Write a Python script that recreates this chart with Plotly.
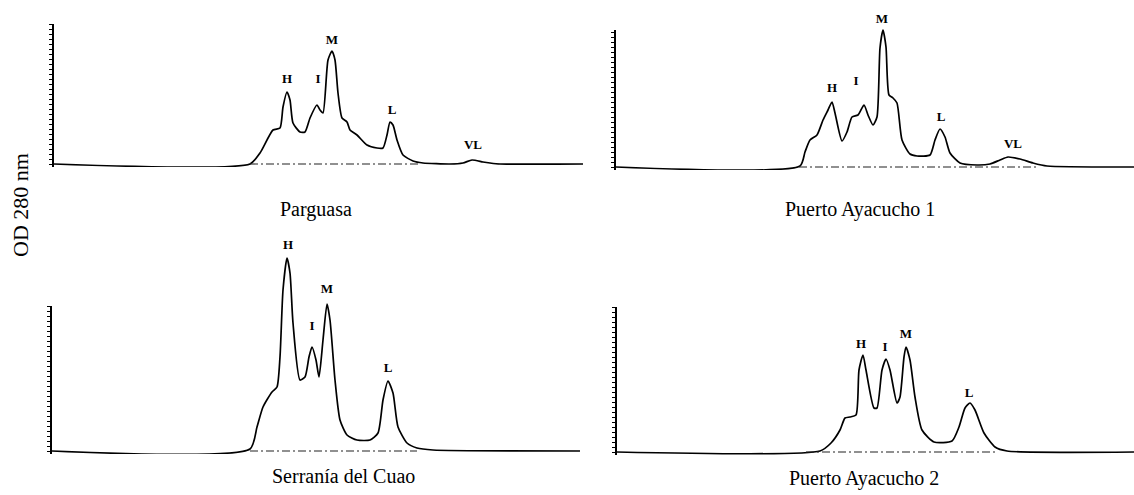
import plotly.graph_objects as go

W, H = 1134, 495

# ---------------- data (elution position, OD280 reading in arbitrary units) -------------
parguasa_x = [0, 196, 206, 219, 226, 229, 233, 236, 239, 246, 251, 256, 263, 266, 269, 274, 278,
              281, 284, 288, 293, 296, 303, 313, 323, 329, 333, 336, 339, 343, 349, 359, 369, 396,
              409, 418, 429, 436, 446, 529]
parguasa_y = [0, 0, 11, 34, 36, 57, 72, 64, 41, 32, 32, 46, 59, 54, 51, 104, 113,
              104, 71, 46, 42, 34, 29, 19, 16, 16, 29, 42, 39, 24, 9, 3, 1, 0,
              1, 4, 2, 1, 0, 0]
parguasa_lbl_x = [233, 264, 278, 338, 419]
parguasa_lbl_y = [84, 84, 123, 53, 18]
parguasa_lbl = ["H", "I", "M", "L", "VL"]
parguasa_base = [196, 367]

pa1_x = [0, 184, 189, 194, 201, 207, 212, 216, 219, 226, 231, 236, 242, 248, 252, 257, 261,
         264, 267, 270, 273, 277, 281, 286, 294, 301, 314, 319, 324, 329, 334, 344, 361, 374,
         384, 392, 404, 417, 431, 518]
pa1_y = [0, 1, 15, 27, 32, 47, 57, 65, 54, 26, 35, 50, 52, 62, 52, 42, 50,
         119, 137, 120, 72, 69, 64, 27, 13, 11, 12, 27, 38, 30, 14, 4, 2, 3,
         7, 10, 8, 4, 1, 0]
pa1_lbl_x = [216, 240, 266, 325, 397]
pa1_lbl_y = [78, 85, 147, 49, 22]
pa1_lbl = ["H", "I", "M", "L", "VL"]
pa1_base = [183, 422]

cuao_x = [0, 198, 205, 211, 220, 225, 228, 231, 235, 238, 241, 248, 253, 257, 260, 264, 267,
          271, 275, 278, 283, 288, 295, 305, 318, 326, 331, 336, 341, 346, 355, 365, 381, 528]
cuao_y = [0, 2, 24, 44, 59, 64, 94, 161, 193, 178, 128, 71, 74, 94, 104, 91, 74,
          111, 147, 131, 71, 31, 16, 11, 11, 18, 51, 70, 58, 24, 8, 3, 1, 0]
cuao_lbl_x = [236, 260, 275, 336]
cuao_lbl_y = [205, 124, 161, 82]
cuao_lbl = ["H", "I", "M", "L"]
cuao_base = [198, 365]

pa2_x = [0, 203, 214, 223, 228, 233, 239, 242, 246, 249, 257, 260, 265, 269, 273, 280, 283,
         287, 289, 293, 298, 305, 317, 335, 342, 348, 353, 358, 367, 378, 390, 517]
pa2_y = [0, 1, 9, 22, 34, 35, 37, 82, 97, 82, 44, 44, 82, 93, 82, 49, 55,
         95, 105, 92, 55, 22, 10, 11, 25, 44, 49, 42, 19, 5, 1, 0]
pa2_lbl_x = [244, 268, 289, 352]
pa2_lbl_y = [107, 104, 117, 58]
pa2_lbl = ["H", "I", "M", "L"]
pa2_base = [189, 381]

titles = ["Parguasa", "Puerto Ayacucho 1", "Serranía del Cuao", "Puerto Ayacucho 2"]
y_title = "OD 280 nm"

# ---------------- layout geometry (pixels) ----------------
geo = [
    dict(x0=54, x1=583, base=164, axtop=24, datatop=5, tx=316, ty=209),
    dict(x0=616, x1=1134, base=167, axtop=30, datatop=5, tx=860, ty=209),
    dict(x0=52, x1=580, base=451, axtop=306, datatop=235, tx=343, ty=476),
    dict(x0=617, x1=1134, base=452, axtop=307, datatop=235, tx=864, ty=478),
]
series = [
    (parguasa_x, parguasa_y, parguasa_lbl_x, parguasa_lbl_y, parguasa_lbl, parguasa_base),
    (pa1_x, pa1_y, pa1_lbl_x, pa1_lbl_y, pa1_lbl, pa1_base),
    (cuao_x, cuao_y, cuao_lbl_x, cuao_lbl_y, cuao_lbl, cuao_base),
    (pa2_x, pa2_y, pa2_lbl_x, pa2_lbl_y, pa2_lbl, pa2_base),
]

PAD = 3
SERIF = "Liberation Serif"
fig = go.Figure()
lay = {}
annotations = []
for i, (g, s) in enumerate(zip(geo, series)):
    n = i + 1
    xid = "x" if n == 1 else f"x{n}"
    yid = "y" if n == 1 else f"y{n}"
    sid = f"y{n + 4}"
    xs, ys, lx, ly, lt, bl = s
    fig.add_trace(go.Scatter(x=bl, y=[0, 0], mode="lines",
                             line=dict(color="#222222", width=1.1, dash="8px,3px,2px,3px"),
                             xaxis=xid, yaxis=sid, showlegend=False, hoverinfo="skip"))
    fig.add_trace(go.Scatter(x=xs, y=ys, mode="lines",
                             line=dict(color="black", width=1.7, shape="spline", smoothing=0.6),
                             xaxis=xid, yaxis=yid, showlegend=False, hoverinfo="skip"))
    fig.add_trace(go.Scatter(x=lx, y=ly, mode="text", text=lt, cliponaxis=False,
                             textfont=dict(family=SERIF, size=13, color="black", weight="bold"),
                             xaxis=xid, yaxis=yid, showlegend=False, hoverinfo="skip"))
    bottom = (H - g["base"] - PAD) / H
    lay["xaxis" if n == 1 else f"xaxis{n}"] = dict(
        domain=[g["x0"] / W, g["x1"] / W], range=[0, g["x1"] - g["x0"]], visible=False,
        anchor=yid, fixedrange=True)
    lay["yaxis" if n == 1 else f"yaxis{n}"] = dict(
        domain=[bottom, (H - g["datatop"]) / H], range=[-PAD, g["base"] - g["datatop"]],
        visible=False, anchor=xid, fixedrange=True)
    lay[f"yaxis{n + 4}"] = dict(
        domain=[bottom, (H - g["axtop"]) / H], range=[-PAD, g["base"] - g["axtop"]],
        anchor=xid, showline=True, linecolor="black", linewidth=1.6, ticks="outside",
        ticklen=3, tickwidth=1, tickcolor="black", tick0=0, dtick=5, showticklabels=False,
        showgrid=False, zeroline=False, fixedrange=True)
    annotations.append(dict(text=titles[i], x=g["tx"] / W, y=1 - g["ty"] / H, xref="paper",
                            yref="paper", showarrow=False, xanchor="center", yanchor="middle",
                            font=dict(family=SERIF, size=20, color="black")))

annotations.append(dict(text=y_title, x=20 / W, y=1 - 205 / H, xref="paper", yref="paper",
                        showarrow=False, textangle=-90, xanchor="center", yanchor="middle",
                        font=dict(family=SERIF, size=22, color="black")))

fig.update_layout(**lay)
fig.update_layout(width=W, height=H, margin=dict(l=0, r=0, t=0, b=0),
                  paper_bgcolor="white", plot_bgcolor="rgba(0,0,0,0)", annotations=annotations,
                  showlegend=False)
fig.write_html("out.html", config={"displayModeBar": False},
               post_script="document.body.style.margin='0px';document.body.style.overflow='hidden';")
